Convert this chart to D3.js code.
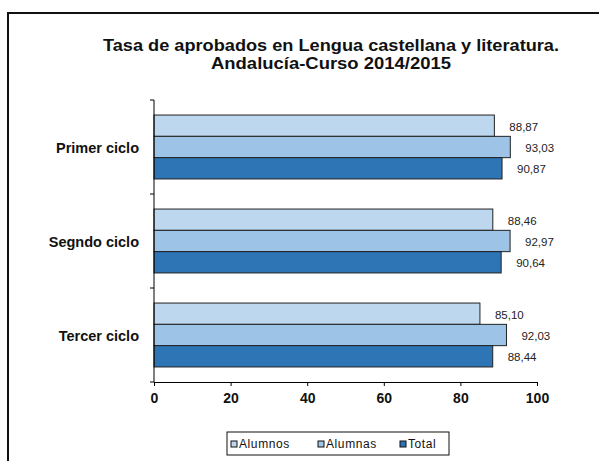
<!DOCTYPE html>
<html>
<head>
<meta charset="utf-8">
<script src="https://cdn.jsdelivr.net/npm/d3@7"></script>
<style>
body { margin: 0; background: #fff; }
text { font-family: "Liberation Sans", Arial, sans-serif; }
</style>
</head>
<body>
<svg width="599" height="461"></svg>
<script>
var ciclos = ["Primer ciclo", "Segndo ciclo", "Tercer ciclo"];
var series = ["Alumnos", "Alumnas", "Total"];
var alumnos = [88.87, 88.46, 85.10];
var alumnas = [93.03, 92.97, 92.03];
var total = [90.87, 90.64, 88.44];
var xTicks = [0, 20, 40, 60, 80, 100];
var colores = ["#bdd7ee", "#9dc3e6", "#2e75b6"];

var data = ciclos.map(function(c, i) {
	return {ciclo: c, values: [alumnos[i], alumnas[i], total[i]]};
});

var svg = d3.select("svg"),
		margin = {top: 100, left: 154},
		width = 383,
		height = 282,
		g = svg.append("g").attr("transform", "translate(" + margin.left + "," + margin.top + ")");

// outer frame
svg.append("rect")
		.attr("x", 8).attr("y", 13)
		.attr("width", 600).attr("height", 460)
		.attr("fill", "none")
		.attr("stroke", "#111")
		.attr("stroke-width", 2);

svg.append("text")
		.attr("x", 331).attr("y", 51)
		.attr("text-anchor", "middle")
		.attr("textLength", 456).attr("lengthAdjust", "spacingAndGlyphs")
		.style("font-size", "17px").style("font-weight", "bold")
		.attr("fill", "#111")
		.text("Tasa de aprobados en Lengua castellana y literatura.");
svg.append("text")
		.attr("x", 331).attr("y", 69)
		.attr("text-anchor", "middle")
		.attr("textLength", 240).attr("lengthAdjust", "spacingAndGlyphs")
		.style("font-size", "17px").style("font-weight", "bold")
		.attr("fill", "#111")
		.text("Andalucía-Curso 2014/2015");

var x = d3.scaleLinear().domain([0, 100]).range([0, width]);
var y0 = d3.scaleBand().domain(ciclos).range([0, height]).paddingInner(0.32).paddingOuter(0.16);
var y1 = d3.scaleBand().domain(series).range([0, y0.bandwidth()]);

var grupo = g.selectAll(".grupo")
	.data(data)
	.enter().append("g")
		.attr("class", "grupo")
		.attr("transform", function(d) { return "translate(0," + y0(d.ciclo) + ")"; });

grupo.selectAll("rect")
	.data(function(d) { return d.values; })
	.enter().append("rect")
		.attr("x", 0)
		.attr("y", function(d, i) { return y1(series[i]); })
		.attr("width", function(d) { return x(d); })
		.attr("height", y1.bandwidth())
		.attr("fill", function(d, i) { return colores[i]; })
		.attr("stroke", "#222")
		.attr("stroke-width", 1);

grupo.selectAll(".valor")
	.data(function(d) { return d.values; })
	.enter().append("text")
		.attr("class", "valor")
		.attr("x", function(d) { return x(d) + 15; })
		.attr("y", function(d, i) { return y1(series[i]) + y1.bandwidth() / 2 + 1; })
		.attr("dy", "0.35em")
		.style("font-size", "11.5px")
		.attr("fill", "#222")
		.text(function(d) { return d.toFixed(2).replace(".", ","); });

// axes
var yTicks = [0, 1, 2, 3].map(function(i) { return i * y0.step(); });
var yAxis = g.append("g");
yAxis.append("line")
		.attr("x1", 0).attr("x2", 0).attr("y1", 0).attr("y2", height)
		.attr("stroke", "#000");
yAxis.selectAll(".tk").data(yTicks).enter().append("line")
		.attr("x1", -4).attr("x2", 0)
		.attr("y1", function(d) { return d; }).attr("y2", function(d) { return d; })
		.attr("stroke", "#000");

g.selectAll(".cat")
	.data(ciclos)
	.enter().append("text")
		.attr("x", -15)
		.attr("y", function(d) { return y0(d) + y0.bandwidth() / 2 + 1; })
		.attr("dy", "0.35em")
		.attr("text-anchor", "end")
		.style("font-size", "14.5px").style("font-weight", "bold")
		.attr("fill", "#111")
		.text(function(d) { return d; });

var xAxis = g.append("g")
		.attr("transform", "translate(0," + height + ")")
		.call(d3.axisBottom(x).tickValues(xTicks).tickSize(4).tickSizeOuter(0));
xAxis.select(".domain").attr("stroke", "#000");
xAxis.selectAll("line").attr("stroke", "#000");
xAxis.selectAll("text")
		.attr("y", 11)
		.style("font-family", "Liberation Sans, Arial, sans-serif")
		.style("font-size", "14px").style("font-weight", "bold")
		.attr("fill", "#111");

// legend
var leg = svg.append("g").attr("transform", "translate(227,432)");
leg.append("rect")
		.attr("width", 222).attr("height", 23)
		.attr("fill", "#fff").attr("stroke", "#111").attr("stroke-width", 1);
var legX = [4, 91, 173];
var item = leg.selectAll(".item").data(series).enter().append("g")
		.attr("transform", function(d, i) { return "translate(" + legX[i] + ",0)"; });
item.append("rect")
		.attr("x", 0).attr("y", 9).attr("width", 6).attr("height", 6)
		.attr("fill", function(d, i) { return colores[i]; })
		.attr("stroke", "#111");
item.append("text")
		.attr("x", 8).attr("y", 12)
		.attr("dy", "0.35em")
		.style("font-size", "12px")
		.style("letter-spacing", "0.6px")
		.attr("fill", "#111")
		.text(function(d) { return d; });
</script>
</body>
</html>
